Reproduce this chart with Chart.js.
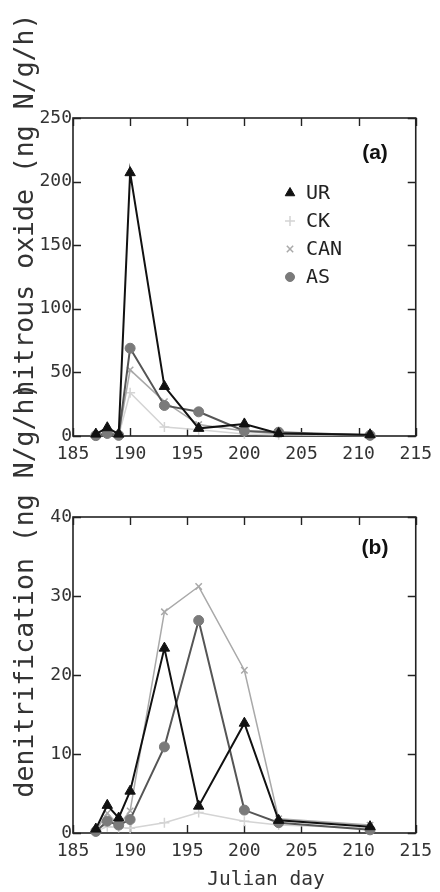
<!DOCTYPE html>
<html>
<head>
<meta charset="utf-8">
<script src="https://cdn.jsdelivr.net/npm/chart.js@4/dist/chart.umd.min.js"></script>
<style>
  html, body { margin: 0; padding: 0; background: #fff; }
  #wrap { position: relative; width: 440px; height: 892px; }
  #wrap canvas { position: absolute; left: 0; top: 0; }
</style>
</head>
<body>
<div id="wrap">
  <canvas id="n2o" width="440" height="892"></canvas>
  <canvas id="denit" width="440" height="892"></canvas>
</div>
<script>
// Sampling days (Julian day)
const days = [187, 188, 189, 190, 193, 196, 200, 203, 211];
const seriesNames = ['UR', 'CK', 'CAN', 'AS'];

// (a) nitrous oxide flux, ng N/g/h
const n2oUR  = [1.5, 6.5, 1.5, 207, 39, 6, 9.5, 2, 1];
const n2oCK  = [0.3, 2, 0.5, 34, 7, 5, 1.5, 1, 0.3];
const n2oCAN = [0.5, 3, 1, 52, 27, 9, 4, 1.5, 0.5];
const n2oAS  = [0.3, 2, 0.5, 69, 24, 19, 4, 3, 0.5];

// (b) denitrification, ng N/g/h
const denUR  = [0.5, 3.5, 1.9, 5.3, 23.4, 3.4, 13.9, 1.6, 0.8];
const denCK  = [0.2, 0.8, 0.7, 0.6, 1.3, 2.6, 1.5, 1.0, 0.6];
const denCAN = [0.3, 2.5, 1.0, 2.8, 28.0, 31.2, 20.6, 1.8, 1.0];
const denAS  = [0.2, 1.5, 1.0, 1.7, 10.9, 26.9, 2.9, 1.3, 0.4];

// Axis ticks
const xTicks   = [185, 190, 195, 200, 205, 210, 215];
const n2oTicks = [0, 50, 100, 150, 200, 250];
const denTicks = [0, 10, 20, 30, 40];

const MONO = "'DejaVu Sans Mono', monospace";

const styles = {
  UR:  { line: '#111111', fill: '#111111', point: 'triangle', radius: 6,   width: 2,   legendR: 5.5 },
  CK:  { line: '#d4d4d4', fill: '#d4d4d4', point: 'cross',    radius: 5,   width: 1.5, legendR: 5 },
  CAN: { line: '#a9a9a9', fill: '#a9a9a9', point: 'crossRot', radius: 4.5, width: 1.5, legendR: 4.5 },
  AS:  { line: '#555555', fill: '#7a7a7a', point: 'circle',   radius: 5,   width: 2,   legendR: 4.5 }
};

function makeDataset(name, values) {
  const s = styles[name];
  return {
    label: name,
    data: days.map((d, i) => ({ x: d, y: values[i] })),
    borderColor: s.line,
    backgroundColor: s.fill,
    borderWidth: s.width,
    pointStyle: s.point,
    pointRadius: s.radius,
    pointBorderColor: s.point === 'cross' || s.point === 'crossRot' ? s.line : s.fill,
    pointBackgroundColor: s.fill,
    pointBorderWidth: s.point === 'cross' || s.point === 'crossRot' ? 1.5 : 1,
    tension: 0,
    clip: false
  };
}

// Frame, inward ticks, panel tag, rotated axis title, optional legend
const panelDecor = {
  id: 'panelDecor',
  beforeDatasetsDraw(chart, args, opts) {
    const { ctx, chartArea: a, scales: { x, y } } = chart;
    ctx.save();
    ctx.strokeStyle = '#222';
    ctx.lineWidth = 1.6;
    ctx.strokeRect(a.left, a.top, a.right - a.left, a.bottom - a.top);
    ctx.lineWidth = 1.4;
    ctx.beginPath();
    x.ticks.forEach(t => {
      const px = Math.round(x.getPixelForValue(t.value)) + 0.5;
      ctx.moveTo(px, a.bottom); ctx.lineTo(px, a.bottom - 8);
      ctx.moveTo(px, a.top);    ctx.lineTo(px, a.top + 8);
    });
    y.ticks.forEach(t => {
      const py = Math.round(y.getPixelForValue(t.value)) + 0.5;
      ctx.moveTo(a.left, py);  ctx.lineTo(a.left + 8, py);
      ctx.moveTo(a.right, py); ctx.lineTo(a.right - 8, py);
    });
    ctx.stroke();
    ctx.restore();
  },
  afterDraw(chart, args, opts) {
    const { ctx } = chart;
    ctx.save();
    // panel tag
    ctx.fillStyle = '#111';
    ctx.font = "bold 21px 'Liberation Sans', Arial, sans-serif";
    ctx.textAlign = 'center';
    ctx.textBaseline = 'middle';
    ctx.fillText(opts.tag, opts.tagX, opts.tagY);

    // rotated y title
    ctx.save();
    ctx.fillStyle = '#333';
    ctx.font = '26.5px ' + MONO;
    ctx.translate(opts.yTitleX, opts.yTitleY);
    ctx.rotate(-Math.PI / 2);
    ctx.textAlign = 'center';
    ctx.textBaseline = 'alphabetic';
    ctx.fillText(opts.yTitle, 0, 0);
    ctx.restore();

    // x title
    if (opts.xTitle) {
      ctx.fillStyle = '#333';
      ctx.font = '19.5px ' + MONO;
      ctx.textAlign = 'center';
      ctx.textBaseline = 'middle';
      ctx.fillText(opts.xTitle, opts.xTitleX, opts.xTitleY);
    }

    // legend
    if (opts.legend) {
      const lg = opts.legend;
      chart.data.datasets
        .slice()
        .sort((p, q) => seriesNames.indexOf(p.label) - seriesNames.indexOf(q.label))
        .forEach((ds, i) => {
          const s = styles[ds.label];
          const yy = lg.y + i * lg.step;
          ctx.fillStyle = s.fill;
          ctx.strokeStyle = s.point === 'cross' || s.point === 'crossRot' ? s.line : s.fill;
          ctx.lineWidth = s.point === 'cross' || s.point === 'crossRot' ? 1.5 : 1;
          Chart.helpers.drawPoint(ctx, { pointStyle: s.point, radius: s.legendR, rotation: 0, borderWidth: ctx.lineWidth }, lg.x, yy);
          ctx.fillStyle = '#222';
          ctx.font = '20px ' + MONO;
          ctx.textAlign = 'left';
          ctx.textBaseline = 'middle';
          ctx.fillText(ds.label, lg.textX, yy + 1);
        });
    }
    ctx.restore();
  }
};

function makeChart(id, sets, yTicks, yMax, padding, xHeight, decor) {
  return new Chart(document.getElementById(id), {
    type: 'line',
    data: { datasets: sets },
    plugins: [panelDecor],
    options: {
      responsive: false,
      animation: false,
      events: [],
      layout: { padding },
      plugins: { legend: { display: false }, tooltip: { enabled: false }, panelDecor: decor },
      scales: {
        x: {
          type: 'linear', min: 185, max: 215,
          grid: { display: false, drawTicks: false },
          border: { display: false },
          afterBuildTicks: s => { s.ticks = xTicks.map(v => ({ value: v })); },
          afterFit: s => { s.height = xHeight; },
          ticks: { color: '#333', font: { family: MONO, size: 18 }, padding: 8, maxRotation: 0, autoSkip: false }
        },
        y: {
          type: 'linear', min: 0, max: yMax,
          grid: { display: false, drawTicks: false },
          border: { display: false },
          afterBuildTicks: s => { s.ticks = yTicks.map(v => ({ value: v })); },
          afterFit: s => { s.width = 73; },
          ticks: { color: '#333', font: { family: MONO, size: 18 }, padding: 1, autoSkip: false }
        }
      }
    }
  });
}

makeChart('n2o',
  [makeDataset('UR', n2oUR), makeDataset('AS', n2oAS), makeDataset('CAN', n2oCAN), makeDataset('CK', n2oCK)],
  n2oTicks, 250,
  { top: 118, left: 0, right: 21, bottom: 416 }, 40,
  { tag: '(a)', tagX: 375, tagY: 153,
    yTitle: 'nitrous oxide (ng N/g/h)', yTitleX: 33, yTitleY: 205,
    legend: { x: 290, textX: 306, y: 193, step: 28 } });

makeChart('denit',
  [makeDataset('UR', denUR), makeDataset('AS', denAS), makeDataset('CAN', denCAN), makeDataset('CK', denCK)],
  denTicks, 40,
  { top: 517, left: 0, right: 21, bottom: 0 }, 59,
  { tag: '(b)', tagX: 375, tagY: 548,
    yTitle: 'denitrification (ng N/g/h)', yTitleX: 33, yTitleY: 590,
    xTitle: 'Julian day', xTitleX: 266, xTitleY: 880 });
</script>
</body>
</html>
